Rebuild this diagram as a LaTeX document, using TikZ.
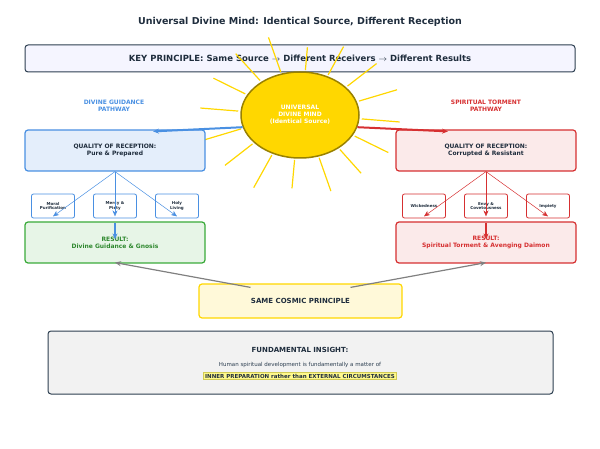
\documentclass[tikz,border=0pt]{standalone}
\usepackage{fontspec}
\setmainfont{DejaVu Sans}
\usetikzlibrary{arrows.meta,calc,shapes.geometric}
\definecolor{navy}{HTML}{1F2D3D}
\definecolor{slate}{HTML}{2C3E50}
\definecolor{guide}{HTML}{4A90E2}
\definecolor{torment}{HTML}{D63031}
\definecolor{goodgreen}{HTML}{3AAA3A}
\definecolor{gold}{HTML}{FFD700}
\begin{document}
\begin{tikzpicture}[x=1pt,y=-1pt,>={Stealth[length=6pt,width=5pt]},
  box/.style={draw,rounded corners=3pt,line width=1.2pt,minimum width=180pt,minimum height=41pt,align=center,font=\fontsize{6}{7}\selectfont\bfseries,text=navy},
  small/.style={draw,rounded corners=2pt,line width=0.8pt,fill=white,minimum width=43pt,minimum height=24pt,align=center,font=\fontsize{4}{4.6}\selectfont\bfseries,text=navy},
  tag/.style={align=center,font=\fontsize{6}{7}\selectfont\bfseries}]
  \useasboundingbox (0,0) rectangle (600,449);

  \node[font=\fontsize{9.5}{11}\selectfont\bfseries,text=navy] (title) at (300,22) {Universal Divine Mind: Identical Source, Different Reception};
  \node[draw=slate,fill=blue!4,rounded corners=3pt,line width=1pt,minimum width=550pt,minimum height=27pt,
        font=\fontsize{8.5}{10}\selectfont\bfseries,text=navy] (key) at (300,58.5)
        {KEY PRINCIPLE: Same Source $\rightarrow$ Different Receivers $\rightarrow$ Different Results};

  % rays of the source
  \foreach \a/\r in {5/100,28/100,50/95,72/100,95/92,117/102,140/98,162/100,185/100,208/98,230/100,252/102,275/85,297/96,320/100,342/102}
    \draw[gold,line width=1.2pt] ($(300,115)+(\a:62 and 45)$) -- ($(300,115)+(\a:{\r} and {0.8*\r})$);
  \node[ellipse,draw=gold!60!black,fill=gold,line width=1.5pt,minimum width=118pt,minimum height=86pt,
        align=center,text=white,font=\fontsize{6}{7}\selectfont\bfseries] (mind) at (300,115)
        {UNIVERSAL\\DIVINE MIND\\(Identical Source)};

  % left pathway
  \node[tag,text=guide] (gtag) at (114,106) {DIVINE GUIDANCE\\PATHWAY};
  \node[box,draw=guide,fill=guide!15] (gqual) at (115,150.5) {QUALITY OF RECEPTION:\\Pure \& Prepared};
  \node[small,draw=guide] (moral) at (53,206) {Moral\\Purification};
  \node[small,draw=guide] (mercy) at (115,206) {Mercy \&\\Piety};
  \node[small,draw=guide] (holy) at (177,206) {Holy\\Living};
  \node[box,draw=goodgreen,fill=goodgreen!12,text=goodgreen!80!black] (gres) at (115,242.5) {RESULT:\\Divine Guidance \& Gnosis};
  \foreach \n in {moral,mercy,holy}
    \draw[->,guide,line width=0.5pt] (gqual.south) -- ([yshift=2pt]\n.south);
  \draw[->,guide,line width=1.5pt] ([yshift=-2pt]gres.north) -- ++(0,16);

  % right pathway
  \node[tag,text=torment] (ttag) at (486,106) {SPIRITUAL TORMENT\\PATHWAY};
  \node[box,draw=torment,fill=torment!10] (tqual) at (486,150.5) {QUALITY OF RECEPTION:\\Corrupted \& Resistant};
  \node[small,draw=torment] (wicked) at (424,206) {Wickedness};
  \node[small,draw=torment] (envy) at (486,206) {Envy \&\\Covetousness};
  \node[small,draw=torment] (impiety) at (548,206) {Impiety};
  \node[box,draw=torment,fill=torment!10,text=torment] (tres) at (486,242.5) {RESULT:\\Spiritual Torment \& Avenging Daimon};
  \foreach \n in {wicked,envy,impiety}
    \draw[->,torment,line width=0.5pt] (tqual.south) -- ([yshift=2pt]\n.south);
  \draw[->,torment,line width=1.5pt] ([yshift=-2pt]tres.north) -- ++(0,16);

  \draw[->,guide,line width=2pt] (mind.192) -- ([xshift=38pt,yshift=-2pt]gqual.north);
  \draw[->,torment,line width=2pt] (mind.348) -- ([xshift=-38pt,yshift=-2pt]tqual.north);

  % common principle
  \node[draw=gold,fill=gold!15,rounded corners=3pt,line width=1.2pt,minimum width=203pt,minimum height=34pt,
        font=\fontsize{7}{8}\selectfont\bfseries,text=navy] (cosmic) at (300.5,301) {SAME COSMIC PRINCIPLE};
  \draw[->,gray,line width=1.2pt] ([xshift=-50pt,yshift=-4pt]cosmic.north) -- ([yshift=1pt]gres.south);
  \draw[->,gray,line width=1.2pt] ([xshift=50pt,yshift=-4pt]cosmic.north) -- ([yshift=1pt]tres.south);

  \node[draw=slate,fill=gray!10,rounded corners=3pt,line width=1pt,minimum width=505pt,minimum height=63pt] (insight) at (300.5,362.5) {};
  \node[font=\fontsize{7}{8}\selectfont\bfseries,text=navy] (ititle) at (300,350) {FUNDAMENTAL INSIGHT:};
  \node[font=\fontsize{5.5}{6}\selectfont,text=slate] (itext) at (300,365) {Human spiritual development is fundamentally a matter of};
  \node[draw=yellow!60!gray,fill=yellow!45,inner sep=1.5pt,font=\fontsize{5.5}{6}\selectfont\bfseries,text=navy] (ikey) at (300,376)
        {INNER PREPARATION rather than EXTERNAL CIRCUMSTANCES};
\end{tikzpicture}
\end{document}
